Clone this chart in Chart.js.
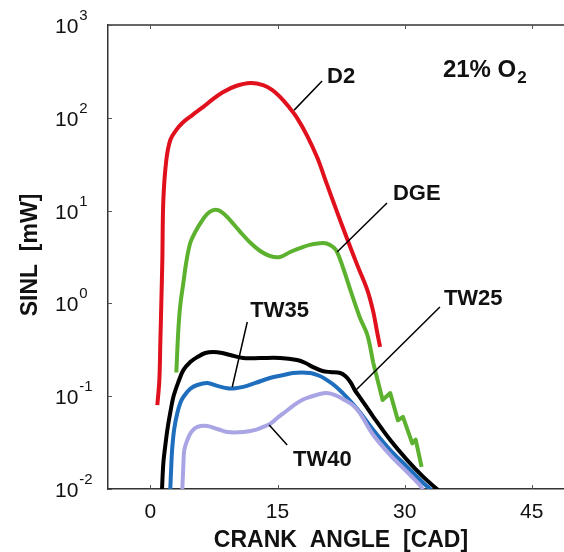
<!DOCTYPE html>
<html>
<head>
<meta charset="utf-8">
<script src="https://cdn.jsdelivr.net/npm/chart.js@4/dist/chart.umd.min.js"></script>
<style>
html,body{margin:0;padding:0;background:#fff;}
#wrap{width:564px;height:552px;position:relative;}
</style>
</head>
<body>
<div id="wrap"><canvas id="c" width="564" height="552"></canvas></div>
<script>
// ---- data ----
const xTickValues = [0, 15, 30, 45];
const yTickExponents = [-2, -1, 0, 1, 2, 3];

const d2X = [0.82,1.06,1.18,1.30,1.41,1.53,1.88,2.36,3.06,3.77,4.95,6.24,7.42,8.6,10.1,11.8,13.3,14.4,15.3,16.3,17.3,18.5,19.7,20.8,22.0,23.2,24.4,25.6,26.3,26.7,27.1];
const d2Y = [0.080,0.150,0.40,1.09,2.9,13,35,58,74,88,107,131,160,190,220,237,225,199,168,132,100,64,37,19.5,9.8,5.0,2.6,1.39,0.81,0.52,0.34];

// DGE smooth part and its stepped tail
const dgeX = [3.06,3.3,3.53,3.89,4.24,4.71,5.3,5.89,6.71,7.42,8.0,8.7,9.4,10.6,11.8,12.96,14.1,15.3,16.5,17.7,18.8,20.4,21.2,21.9,22.7,23.6,24.7,25.6,26.3];
const dgeY = [0.18,0.52,0.96,1.66,2.8,4.5,5.9,7.3,9.2,10.1,10.1,9.2,7.9,5.9,4.5,3.67,3.24,3.16,3.58,3.95,4.27,4.48,4.27,3.76,2.47,1.39,0.71,0.457,0.228];
const dgeTailX = [26.3,27.4,28.3,29.2,29.8,30.9,31.3,32.0];
const dgeTailY = [0.228,0.091,0.108,0.055,0.060,0.031,0.034,0.0173];

const tw25X = [1.35,1.53,1.77,2.0,2.36,2.71,3.3,3.89,4.71,5.54,6.48,7.42,8.48,9.42,10.95,12.96,15.3,17.3,18.3,19.2,20.3,21.2,22.4,23.0,23.6,24.1,24.7,26.3,28.3,30.3,32.2,33.8,34.2];
const tw25Y = [0.0090,0.019,0.0298,0.0433,0.0676,0.098,0.142,0.191,0.234,0.264,0.292,0.299,0.292,0.278,0.258,0.258,0.258,0.245,0.228,0.206,0.187,0.182,0.178,0.165,0.142,0.117,0.098,0.060,0.0337,0.0205,0.0135,0.0100,0.0092];

const tw35X = [2.33,2.47,2.59,2.83,3.18,3.53,3.89,4.71,5.54,6.71,7.9,9.07,10.0,10.95,12.4,14.1,15.7,16.8,18.8,20.0,20.8,21.8,22.7,23.8,24.7,26.3,28.3,30.3,32.2,33.0,33.3];
const tw35Y = [0.0090,0.0182,0.0284,0.0454,0.066,0.0845,0.098,0.12,0.132,0.139,0.129,0.122,0.122,0.126,0.139,0.157,0.169,0.178,0.178,0.165,0.150,0.129,0.108,0.0845,0.0676,0.0433,0.0263,0.0173,0.0116,0.0100,0.0092];

const tw40X = [3.75,3.89,4.0,4.36,4.83,5.54,6.71,7.9,9.07,10.95,12.4,13.3,14.1,14.96,15.9,16.8,17.9,18.8,20.0,20.8,21.8,22.7,23.9,24.7,26.3,28.3,30.3,31.8,32.3];
const tw40Y = [0.0090,0.0182,0.0263,0.0337,0.0411,0.0466,0.0478,0.0443,0.0411,0.0411,0.0433,0.0466,0.0501,0.0582,0.0676,0.0783,0.091,0.098,0.1057,0.108,0.103,0.0933,0.080,0.066,0.0382,0.0232,0.0152,0.011,0.0092];

// annotation labels (data coordinates)
const labelText  = ['D2', 'DGE', 'TW35', 'TW25', 'TW40'];
const labelX     = [20.85, 28.62, 11.78, 34.63, 16.84];
const labelY     = [237, 13.0, 0.713, 0.961, 0.0177];
const leaderX1   = [20.26, 27.92, 11.43, 34.16, 14.02];
const leaderY1   = [249.5, 12.1, 0.631, 0.914, 0.049];
const leaderX2   = [16.96, 22.03, 9.66, 24.26, 16.14];
const leaderY2   = [121, 3.58, 0.1256, 0.1167, 0.0298];
const noteX = 34.51, noteY = 275;

const pts = (xs, ys) => xs.map((x, i) => ({x: x, y: ys[i]}));
const FONT = '"Liberation Sans", Arial, Helvetica, sans-serif';

const overlay = {
  id: 'overlay',
  afterDatasetsDraw(chart) {
    const ctx = chart.ctx, ca = chart.chartArea;
    const xs = chart.scales.x, ys = chart.scales.y;
    ctx.save();
    // top border
    ctx.strokeStyle = '#333';
    ctx.lineWidth = 1.5;
    ctx.beginPath();
    ctx.moveTo(ca.left, ca.top); ctx.lineTo(ca.right, ca.top);
    ctx.stroke();
    // inward tick marks
    ctx.lineWidth = 1;
    ctx.strokeStyle = '#555';
    ctx.beginPath();
    xTickValues.forEach(v => {
      const p = Math.round(xs.getPixelForValue(v)) + 0.5;
      ctx.moveTo(p, ca.bottom); ctx.lineTo(p, ca.bottom - 4);
      ctx.moveTo(p, ca.top); ctx.lineTo(p, ca.top + 4);
    });
    yTickExponents.forEach(e => {
      const p = Math.round(ys.getPixelForValue(Math.pow(10, e))) + 0.5;
      ctx.moveTo(ca.left, p); ctx.lineTo(ca.left + 4, p);
    });
    ctx.stroke();

    // x tick labels
    ctx.fillStyle = '#111';
    ctx.font = '21px ' + FONT;
    ctx.textAlign = 'center';
    ctx.textBaseline = 'alphabetic';
    xTickValues.forEach(v => {
      ctx.fillText(String(v), xs.getPixelForValue(v), ca.bottom + 29);
    });
    // y tick labels 10^e
    yTickExponents.forEach(e => {
      const p = ys.getPixelForValue(Math.pow(10, e));
      ctx.textAlign = 'left';
      ctx.font = '21px ' + FONT;
      const x0 = ca.left - 53;
      ctx.fillText('10', x0, p + 8);
      const w = ctx.measureText('10').width;
      ctx.font = '15px ' + FONT;
      ctx.fillText(e < 0 ? '-' + Math.abs(e) : String(e), x0 + w + 1, p - 5);
    });

    // axis titles
    ctx.font = 'bold 23px ' + FONT;
    ctx.textAlign = 'center';
    ctx.fillText('CRANK  ANGLE  [CAD]', 341, 547);
    ctx.save();
    ctx.translate(37, 255);
    ctx.rotate(-Math.PI / 2);
    ctx.fillText('SINL  [mW]', 0, 0);
    ctx.restore();

    // leader lines
    ctx.strokeStyle = '#000';
    ctx.lineWidth = 1.5;
    ctx.beginPath();
    labelText.forEach((t, i) => {
      ctx.moveTo(xs.getPixelForValue(leaderX1[i]), ys.getPixelForValue(leaderY1[i]));
      ctx.lineTo(xs.getPixelForValue(leaderX2[i]), ys.getPixelForValue(leaderY2[i]));
    });
    ctx.stroke();
    // labels
    ctx.font = 'bold 22px ' + FONT;
    ctx.textAlign = 'left';
    labelText.forEach((t, i) => {
      ctx.fillText(t, xs.getPixelForValue(labelX[i]), ys.getPixelForValue(labelY[i]));
    });
    // 21% O2
    ctx.font = 'bold 24px ' + FONT;
    const nx = xs.getPixelForValue(noteX), ny = ys.getPixelForValue(noteY);
    ctx.fillText('21% O', nx, ny);
    const nw = ctx.measureText('21% O').width;
    ctx.font = 'bold 17px ' + FONT;
    ctx.fillText('2', nx + nw + 1, ny + 6);
    ctx.restore();
  }
};

const ds = (label, data, color, tension) => ({
  label: label, data: data, borderColor: color, borderWidth: 4,
  pointRadius: 0, fill: false, tension: tension, borderCapStyle: 'butt', borderJoinStyle: 'round'
});

new Chart(document.getElementById('c'), {
  type: 'line',
  data: {
    datasets: [
      ds('TW40', pts(tw40X, tw40Y), '#a9a4e4', 0.35),
      ds('TW35', pts(tw35X, tw35Y), '#1f6ebd', 0.35),
      ds('TW25', pts(tw25X, tw25Y), '#000000', 0.35),
      ds('DGE', pts(dgeX, dgeY), '#5cb12e', 0.35),
      ds('DGE tail', pts(dgeTailX, dgeTailY), '#5cb12e', 0),
      ds('D2', pts(d2X, d2Y), '#e0101c', 0.35)
    ]
  },
  options: {
    responsive: false,
    animation: false,
    events: [],
    layout: {padding: {top: 25, right: 0, left: 0, bottom: 0}},
    plugins: {legend: {display: false}, tooltip: {enabled: false}, title: {display: false}},
    scales: {
      x: {
        type: 'linear', min: -5, max: 48.8,
        grid: {display: false, drawTicks: false},
        border: {display: true, color: '#333', width: 1.5},
        ticks: {display: false},
        afterFit: s => { s.height = 63; }
      },
      y: {
        type: 'logarithmic', min: 0.01, max: 1000,
        grid: {display: false, drawTicks: false},
        border: {display: true, color: '#333', width: 1.5},
        ticks: {display: false},
        afterFit: s => { s.width = 108; }
      }
    }
  },
  plugins: [overlay]
});
</script>
</body>
</html>
